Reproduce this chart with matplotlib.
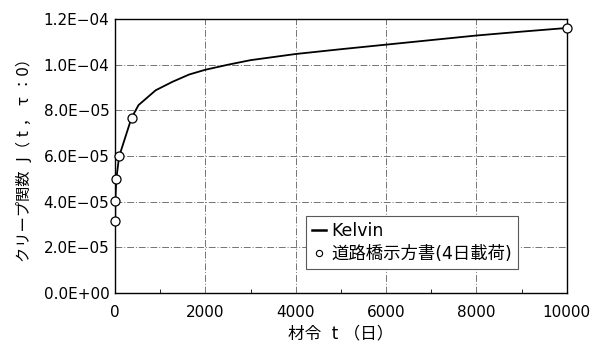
import matplotlib
matplotlib.use("Agg")
import matplotlib.pyplot as plt
from matplotlib.lines import Line2D
from matplotlib.ticker import FuncFormatter, MultipleLocator

plt.rcParams['font.family'] = ['DejaVu Sans', 'Noto Sans CJK JP']

# Kelvin モデルの曲線 (材令 t [日], J)
t_kelvin = [4, 7, 28, 91, 365, 520, 900, 1270, 1640, 2000, 2500, 3000,
            4000, 5000, 6000, 7000, 8000, 9000, 10000]
j_kelvin = [3.16e-5, 4.03e-5, 4.99e-5, 5.98e-5, 7.67e-5, 8.23e-5, 8.88e-5,
            9.25e-5, 9.57e-5, 9.78e-5, 1.000e-4, 1.020e-4, 1.047e-4,
            1.068e-4, 1.088e-4, 1.108e-4, 1.128e-4, 1.145e-4, 1.161e-4]

# 道路橋示方書 (4日載荷)
t_spec = [4, 7, 28, 91, 365, 10000]
j_spec = [3.16e-5, 4.03e-5, 4.99e-5, 5.98e-5, 7.67e-5, 1.161e-4]

fig = plt.figure(figsize=(5.96, 3.47), dpi=100)
ax = fig.add_axes([0.193, 0.156, 0.758, 0.789])

ax.plot(t_kelvin, j_kelvin, color='black', lw=1.3, zorder=3)
ax.plot(t_spec, j_spec, linestyle='none', marker='o', ms=6.5,
        markerfacecolor='white', markeredgecolor='black', mew=0.9,
        zorder=4, clip_on=False)

ax.set_xlim(0, 10000)
ax.set_ylim(0, 1.2e-4)
ax.xaxis.set_major_locator(MultipleLocator(2000))
ax.xaxis.set_minor_locator(MultipleLocator(1000))
ax.yaxis.set_major_locator(MultipleLocator(2e-5))
ax.yaxis.set_major_formatter(FuncFormatter(
    lambda v, p: ("%.1E" % v).replace("-", "\u2212")))

ax.grid(True, which='major', color='0.45', lw=0.7,
        linestyle=(0, (7, 2, 1, 2)))
ax.tick_params(which='both', direction='in', labelsize=11)
ax.tick_params(axis='x', pad=9)
ax.tick_params(axis='y', pad=4)
ax.tick_params(which='major', length=0)
ax.tick_params(which='minor', length=3)
ax.tick_params(axis='y', which='minor', left=False)
for s in ax.spines.values():
    s.set_linewidth(1.0)

ax.set_xlabel("材令  t （日）", fontsize=12, labelpad=3)
ax.set_ylabel("クリープ関数  J（ t ， τ ：0）", fontsize=11, labelpad=8)

handles = [Line2D([], [], color='black', lw=1.8),
           Line2D([], [], linestyle='none', marker='o', ms=4.5,
                  markerfacecolor='white', markeredgecolor='black', mew=0.8)]
leg = ax.legend(handles, ["Kelvin", "道路橋示方書(4日載荷)"],
                loc='lower left', bbox_to_anchor=(0.423, 0.088),
                borderaxespad=0, fontsize=12.5, handlelength=0.8,
                handletextpad=0.3, fancybox=False, framealpha=1,
                borderpad=0.35, labelspacing=0.25)
leg.get_frame().set_edgecolor('0.35')
leg.get_frame().set_linewidth(0.8)

fig.savefig("out.png", dpi=100)
